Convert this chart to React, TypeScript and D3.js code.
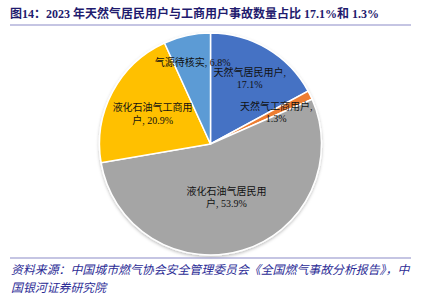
import React from "react";
import * as d3 from "d3";

const categories = ["天然气居民用户", "天然气工商用户", "液化石油气居民用户", "液化石油气工商用户", "气源待核实"];
const values = [17.1, 1.3, 53.9, 20.9, 6.8];
const colors = ["#4472C4", "#ED7D31", "#A5A5A5", "#FFC000", "#5B9BD5"];
const titleText = "图14：2023 年天然气居民用户与工商用户事故数量占比 17.1%和 1.3%";
const sourceLines = [
  "资料来源：中国城市燃气协会安全管理委员会《全国燃气事故分析报告》，中",
  "国银河证券研究院",
];

const W = 422;
const H = 298;
const cx = 210.5;
const cy = 144;
const R = 111;
const labelRadius = [0.69, 0.66, 0.5, 0.59, 0.76];
const wrapAt = [8, 8, 8, 8, 99];
const FONT = "'Liberation Serif', 'Noto Sans CJK SC', serif";

export default function App() {
  const pie = d3.pie<number>().sort(null).value((d) => d);
  const arcs = pie(values);
  const arc = d3.arc<d3.PieArcDatum<number>>().innerRadius(0).outerRadius(R);

  return (
    <svg width={W} height={H} style={{ position: "absolute", left: 0, top: 0, background: "#fff" }}>
      <defs>
        <filter id="sh" x="-20%" y="-20%" width="140%" height="140%">
          <feDropShadow dx="0" dy="1.5" stdDeviation="1.5" floodColor="#000" floodOpacity="0.25" />
        </filter>
      </defs>
      <text x={10} y={18} fontFamily={FONT} fontWeight="bold" fontSize={12} fill="#1F1B6E">
        {titleText}
      </text>
      <line x1={10} x2={411} y1={25} y2={25} stroke="#8C8CC8" strokeWidth={1.2} />
      <g transform={`translate(${cx},${cy})`}>
        <g filter="url(#sh)">
          {arcs.map((a, i) => (
            <path key={i} d={arc(a) || ""} fill={colors[i]} stroke="#fff" strokeWidth={1.5} />
          ))}
        </g>
        {arcs.map((a, i) => {
          const mid = (a.startAngle + a.endAngle) / 2;
          const r = R * labelRadius[i];
          const x = Math.sin(mid) * r;
          const y = -Math.cos(mid) * r;
          const full = `${categories[i]}, ${values[i].toFixed(1)}%`;
          const lines = full.length > wrapAt[i] ? [full.slice(0, wrapAt[i]), full.slice(wrapAt[i]).trim()] : [full];
          const lh = 12.5;
          const y0 = y - ((lines.length - 1) * lh) / 2;
          return (
            <text key={i} x={x} y={y0} textAnchor="middle" dominantBaseline="central" fontFamily={FONT} fontSize={10} fill="#111">
              {lines.map((l, j) => (
                <tspan key={j} x={x} y={y0 + j * lh}>
                  {l}
                </tspan>
              ))}
            </text>
          );
        })}
      </g>
      <line x1={10} x2={411} y1={258} y2={258} stroke="#8C8CC8" strokeWidth={1.2} />
      {sourceLines.map((s, i) => (
        <text key={i} x={11} y={274 + i * 18} fontFamily={FONT} fontStyle="italic" fontSize={11.9} fill="#2B2B95">
          {s}
        </text>
      ))}
    </svg>
  );
}
